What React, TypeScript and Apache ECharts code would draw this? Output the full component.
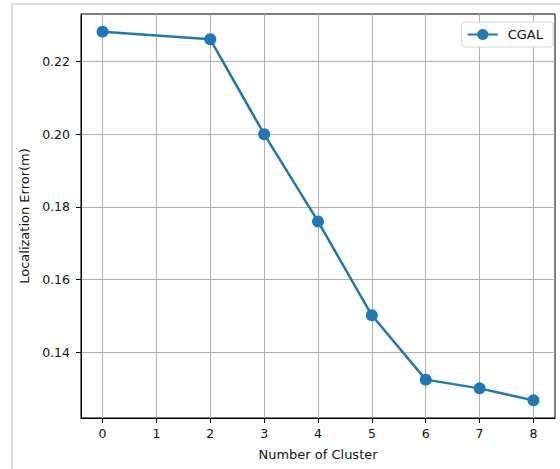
import React, { useEffect, useRef } from "react";
import * as echarts from "echarts";

const clusters = [0, 2, 3, 4, 5, 6, 7, 8];
const errors = [0.2282, 0.2261, 0.2, 0.176, 0.1502, 0.1325, 0.1301, 0.1268];
const xTicks = [0, 1, 2, 3, 4, 5, 6, 7, 8];
const yTicks = [0.14, 0.16, 0.18, 0.2, 0.22];
const seriesName = "CGAL";

const FONT = "DejaVu Sans";

export default function App() {
  const ref = useRef<HTMLDivElement>(null);
  useEffect(() => {
    if (!ref.current) return;
    const chart = echarts.init(ref.current, undefined, { renderer: "svg" });
    chart.setOption({
      animation: false,
      backgroundColor: "#fff",
      textStyle: { fontFamily: FONT },
      graphic: [
        { type: "line", shape: { x1: 12, y1: 3, x2: 12, y2: 469 }, style: { stroke: "#dedede", lineWidth: 2 } },
        { type: "line", shape: { x1: 11, y1: 4, x2: 560, y2: 4 }, style: { stroke: "#dedede", lineWidth: 2 } },
      ],
      grid: {
        left: 81,
        top: 14,
        width: 474,
        height: 404,
        show: true,
        borderColor: "#000",
        borderWidth: 1,
        backgroundColor: "transparent",
      },
      legend: {
        data: [seriesName],
        right: 7,
        top: 22,
        orient: "vertical",
        padding: [6, 10, 6, 5],
        itemWidth: 30,
        itemHeight: 14,
        borderColor: "#d5d5d5",
        borderWidth: 1,
        borderRadius: 3,
        backgroundColor: "#fff",
        textStyle: { fontFamily: FONT, fontSize: 13, color: "#111", padding: [0, 0, 0, 5] },
      },
      xAxis: {
        type: "value",
        min: -0.4,
        max: 8.4,
        name: "Number of Cluster",
        nameLocation: "middle",
        nameGap: 30,
        nameTextStyle: { fontFamily: FONT, fontSize: 13, color: "#111" },
        axisLine: { show: true, onZero: false, lineStyle: { color: "#000", width: 1 } },
        axisTick: { show: true, length: 5, customValues: xTicks, lineStyle: { color: "#000" } },
        axisLabel: { customValues: xTicks, fontFamily: FONT, fontSize: 12.5, color: "#111", margin: 9 },
        splitLine: { show: true, lineStyle: { color: "#b0b0b0", width: 1 } },
      },
      yAxis: {
        type: "value",
        min: 0.12195,
        max: 0.23305,
        name: "Localization Error(m)",
        nameLocation: "middle",
        nameGap: 42,
        nameTextStyle: { fontFamily: FONT, fontSize: 13, color: "#111" },
        axisLine: { show: true, onZero: false, lineStyle: { color: "#000", width: 1 } },
        axisTick: { show: true, length: 5, customValues: yTicks, lineStyle: { color: "#000" } },
        axisLabel: {
          customValues: yTicks,
          fontFamily: FONT,
          fontSize: 12.5,
          color: "#111",
          margin: 11,
          formatter: (v: number) => v.toFixed(2),
        },
        splitLine: { show: true, lineStyle: { color: "#b0b0b0", width: 1 } },
      },
      series: [
        {
          name: seriesName,
          type: "line",
          data: clusters.map((c, i) => [c, errors[i]]),
          symbol: "circle",
          symbolSize: 12,
          lineStyle: { color: "#1f77b4", width: 2.5 },
          itemStyle: { color: "#1f77b4" },
          z: 5,
        },
      ],
    });
    return () => chart.dispose();
  }, []);
  return (
    <div
      ref={ref}
      style={{ position: "fixed", left: 0, top: 0, width: 560, height: 469 }}
    />
  );
}
